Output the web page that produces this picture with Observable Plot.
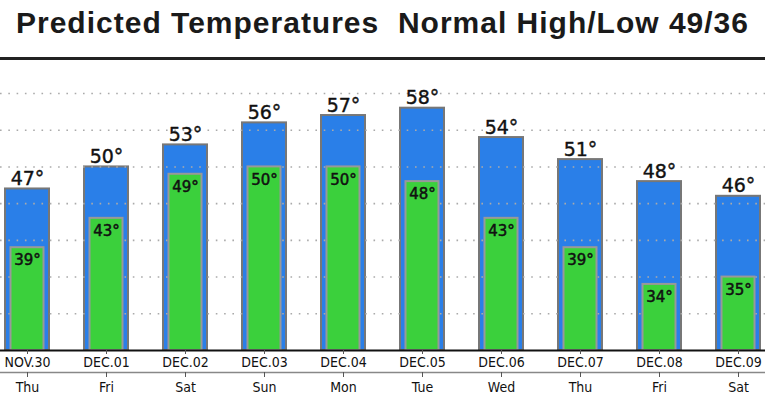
<!DOCTYPE html>
<html>
<head>
<meta charset="utf-8">
<script src="https://cdn.jsdelivr.net/npm/d3@7"></script>
<script src="https://cdn.jsdelivr.net/npm/@observablehq/plot@0.6"></script>
<style>
  html, body { margin: 0; padding: 0; background: #fff; }
  #title {
    width: 765px; height: 47px; line-height: 45px; padding-bottom: 10px;
    border-bottom: 3px solid #222;
    font-family: "Liberation Sans", Arial, sans-serif; font-weight: bold; font-size: 30px;
    letter-spacing: 1px;
    color: #1a1a1a; text-align: center; white-space: pre;
  }
  #chart svg { display: block; }
</style>
</head>
<body>
<div id="title">Predicted Temperatures  Normal High/Low 49/36</div>
<div id="chart"></div>
<script>
const dates = ["NOV.30","DEC.01","DEC.02","DEC.03","DEC.04","DEC.05","DEC.06","DEC.07","DEC.08","DEC.09"];
const days  = ["Thu","Fri","Sat","Sun","Mon","Tue","Wed","Thu","Fri","Sat"];
const highs = [47, 50, 53, 56, 57, 58, 54, 51, 48, 46];
const lows  = [39, 43, 49, 50, 50, 48, 43, 39, 34, 35];
const gridTicks = [30, 35, 40, 45, 50, 55, 60];
const yBase = 25;

const rows = dates.map((d, i) => ({date: d, day: days[i], high: highs[i], low: lows[i]}));
const dayOf = Object.fromEntries(rows.map(r => [r.date, r.day]));

const font = '"DejaVu Sans Condensed", "DejaVu Sans", sans-serif';
const labelFont = '"DejaVu Sans", sans-serif';

const chart = Plot.plot({
  width: 765,
  height: 334,
  marginLeft: 0,
  marginRight: 0,
  marginTop: 33,
  marginBottom: 44,
  style: {fontFamily: font, background: "#fff", overflow: "visible"},
  x: {type: "band", domain: dates, paddingInner: 0.44, paddingOuter: 0.05, label: null},
  y: {domain: [yBase, 60], axis: null},
  marks: [
    Plot.barY(rows, {x: "date", y1: yBase, y2: "high", fill: "#2a7fe8", stroke: "#777", strokeWidth: 2}),
    Plot.ruleY(gridTicks, {stroke: "#aaa", strokeWidth: 1.6, strokeDasharray: "1.6,6.7"}),
    Plot.barY(rows, {x: "date", y1: yBase, y2: "low", fill: "#3bd03c", stroke: "#999", strokeWidth: 2, insetLeft: 5.5, insetRight: 5.5}),
    Plot.text(rows, {x: "date", y: "high", text: d => d.high + "°", lineAnchor: "bottom", dy: -4, fontSize: 19, fill: "#111", stroke: "#111", strokeWidth: 0.4, fontFamily: labelFont}),
    Plot.text(rows, {x: "date", y: "low", text: d => d.low + "°", lineAnchor: "top", dy: 7, fontSize: 15, fill: "#111", stroke: "#111", strokeWidth: 0.5, fontFamily: labelFont}),
    Plot.ruleY([yBase], {stroke: "#111", strokeWidth: 2}),
    Plot.ruleY([yBase], {dy: 22, stroke: "#888", strokeWidth: 1.5}),
    Plot.axisX({tickSize: 4, tickPadding: 3, fontSize: 14, fill: "#111", stroke: "#555", label: null}),
    Plot.axisX({dy: 22, tickSize: 5, tickPadding: 5, fontSize: 14, fill: "#111", stroke: "#555", label: null, tickFormat: d => dayOf[d]})
  ]
});
document.getElementById("chart").appendChild(chart);
</script>
</body>
</html>
